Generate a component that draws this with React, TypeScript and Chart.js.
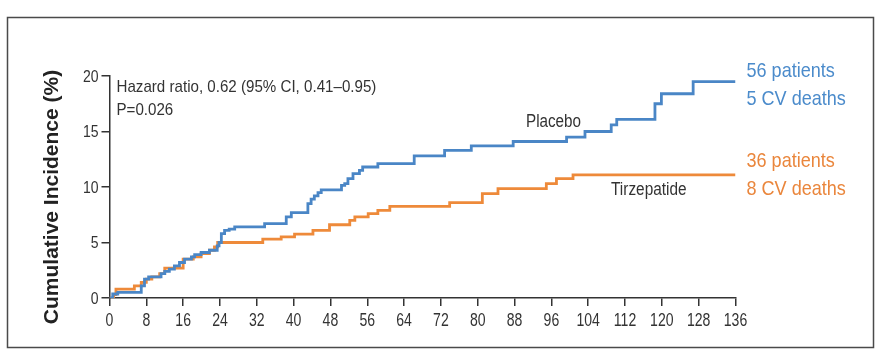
import React, { useEffect, useRef } from 'react';
import { Chart, registerables } from 'chart.js';

Chart.register(...registerables);

// ---- data (weeks, cumulative incidence %) ----
const placeboWeeks = [0, 0.7, 1.8, 6.9, 7.6, 8.5, 11.2, 12.0, 13.0, 14.1, 15.2, 16.3, 17.8, 18.5, 19.9, 21.7, 23.4, 23.8, 24.3, 25.0, 26.0, 27.2, 33.7, 38.4, 39.5, 43.1, 43.8, 44.5, 45.3, 46.0, 50.4, 51.1, 51.8, 52.9, 54.3, 55.0, 58.3, 66.2, 72.8, 78.6, 87.7, 99.3, 103.3, 109.0, 110.2, 118.5, 119.9, 126.8, 136];
const placeboIncidence = [0, 0.36, 0.5, 1.1, 1.7, 1.9, 2.2, 2.4, 2.6, 2.9, 3.2, 3.5, 3.7, 3.9, 4.1, 4.3, 4.7, 5.0, 5.8, 6.1, 6.2, 6.4, 6.7, 7.3, 7.7, 8.5, 8.9, 9.2, 9.5, 9.75, 10.15, 10.3, 10.75, 11.2, 11.5, 11.8, 12.1, 12.8, 13.3, 13.7, 14.1, 14.5, 15.0, 15.6, 16.1, 17.5, 18.4, 19.5, 19.5];

const tirzWeeks = [0, 0.9, 1.4, 5.4, 6.9, 8.0, 9.2, 10.9, 12.0, 16.0, 18.2, 19.9, 21.7, 22.8, 23.5, 33.3, 37.3, 40.2, 44.2, 47.8, 52.2, 53.3, 56.2, 58.3, 60.9, 73.9, 81.0, 84.4, 94.9, 97.1, 100.7, 136];
const tirzIncidence = [0, 0.3, 0.8, 1.1, 1.4, 1.7, 1.9, 2.2, 2.7, 3.5, 3.7, 4.0, 4.3, 4.6, 5.0, 5.3, 5.5, 5.75, 6.1, 6.6, 7.0, 7.3, 7.6, 7.9, 8.25, 8.6, 9.4, 9.85, 10.3, 10.75, 11.1, 11.1];

const xTickValues = [0, 8, 16, 24, 32, 40, 48, 56, 64, 72, 80, 88, 96, 104, 112, 120, 128, 136];
const yTickValues = [0, 5, 10, 15, 20];

const seriesNames = ['Placebo', 'Tirzepatide'];
const rightLabels = [['56 patients', '5 CV deaths'], ['36 patients', '8 CV deaths']];
const statsLines = ['Hazard ratio, 0.62 (95% CI, 0.41\u20130.95)', 'P=0.026'];
const yTitle = 'Cumulative Incidence (%)';

const BLUE = '#4a86c6';
const ORANGE = '#ee8a3a';
const BLUE_TEXT = '#4b8bcb';
const ORANGE_TEXT = '#ea863c';
const INK = '#333333';
const FONT = "'Liberation Sans', Arial, sans-serif";

function drawText(ctx: CanvasRenderingContext2D, text: string, x: number, y: number, size: number, sx: number, align: CanvasTextAlign, baseline: CanvasTextBaseline, color: string, bold = false) {
  ctx.save();
  ctx.translate(x, y);
  ctx.scale(sx, 1);
  ctx.font = `${bold ? 'bold ' : ''}${size}px ${FONT}`;
  ctx.textAlign = align;
  ctx.textBaseline = baseline;
  ctx.fillStyle = color;
  ctx.fillText(text, 0, 0);
  ctx.restore();
}

const decorPlugin = {
  id: 'decor',
  beforeDraw(chart: any) {
    const ctx = chart.ctx;
    ctx.save();
    ctx.fillStyle = '#ffffff';
    ctx.fillRect(0, 0, chart.width, chart.height);
    ctx.strokeStyle = '#4a4a4a';
    ctx.lineWidth = 1.5;
    ctx.strokeRect(7.5, 17.5, 866, 330);
    ctx.restore();
  },
  afterDraw(chart: any) {
    const ctx = chart.ctx as CanvasRenderingContext2D;
    const a = chart.chartArea;
    const xs = chart.scales.x;
    const ys = chart.scales.y;

    // tick labels (condensed)
    xTickValues.forEach((v) => {
      drawText(ctx, String(v), xs.getPixelForValue(v), 326, 18.5, 0.76, 'center', 'alphabetic', INK);
    });
    yTickValues.forEach((v) => {
      drawText(ctx, String(v), a.left - 11, ys.getPixelForValue(v) + 1, 16.5, 0.85, 'right', 'middle', INK);
    });

    // y title
    ctx.save();
    ctx.translate(a.left - 57, 197);
    ctx.rotate(-Math.PI / 2);
    drawText(ctx, yTitle, 0, 0, 21, 1, 'center', 'middle', '#222', true);
    ctx.restore();

    // annotations
    drawText(ctx, statsLines[0], a.left + 7, 92, 17, 0.89, 'left', 'alphabetic', INK);
    drawText(ctx, statsLines[1], a.left + 7, 115, 17, 0.89, 'left', 'alphabetic', INK);
    drawText(ctx, seriesNames[0], 526, 127, 17.5, 0.87, 'left', 'alphabetic', INK);
    drawText(ctx, seriesNames[1], 611, 195, 17.5, 0.88, 'left', 'alphabetic', INK);

    drawText(ctx, rightLabels[0][0], a.right + 11, 77, 21, 0.86, 'left', 'alphabetic', BLUE_TEXT);
    drawText(ctx, rightLabels[0][1], a.right + 11, 105, 21, 0.86, 'left', 'alphabetic', BLUE_TEXT);
    drawText(ctx, rightLabels[1][0], a.right + 11, 167, 21, 0.86, 'left', 'alphabetic', ORANGE_TEXT);
    drawText(ctx, rightLabels[1][1], a.right + 11, 195, 21, 0.86, 'left', 'alphabetic', ORANGE_TEXT);
  },
};

export default function App() {
  const ref = useRef<HTMLCanvasElement | null>(null);
  useEffect(() => {
    if (!ref.current) return;
    const chart = new Chart(ref.current, {
      type: 'line',
      data: {
        datasets: [
          {
            label: seriesNames[0],
            data: placeboWeeks.map((x, i) => ({ x, y: placeboIncidence[i] })),
            borderColor: BLUE,
            borderWidth: 2.8,
            pointRadius: 0,
            stepped: true,
            fill: false,
          },
          {
            label: seriesNames[1],
            data: tirzWeeks.map((x, i) => ({ x, y: tirzIncidence[i] })),
            borderColor: ORANGE,
            borderWidth: 2.8,
            pointRadius: 0,
            stepped: true,
            fill: false,
          },
        ],
      },
      options: {
        animation: false,
        responsive: false,
        maintainAspectRatio: false,
        layout: { padding: { left: 0, right: 150.5, top: 76, bottom: 0 } },
        plugins: { legend: { display: false }, tooltip: { enabled: false }, title: { display: false } },
        scales: {
          x: {
            type: 'linear',
            min: 0,
            max: 136,
            afterBuildTicks: (s: any) => { s.ticks = xTickValues.map((v) => ({ value: v })); },
            afterFit: (s: any) => { s.height = 64; },
            ticks: { display: false },
            grid: { drawOnChartArea: false, drawTicks: true, tickLength: 8, color: INK, lineWidth: 1.5 },
            border: { display: true, color: INK, width: 1.5 },
          },
          y: {
            type: 'linear',
            min: 0,
            max: 20,
            afterBuildTicks: (s: any) => { s.ticks = yTickValues.map((v) => ({ value: v })); },
            afterFit: (s: any) => { s.width = 109.5; },
            ticks: { display: false },
            grid: { drawOnChartArea: false, drawTicks: true, tickLength: 8, color: INK, lineWidth: 1.5 },
            border: { display: true, color: INK, width: 1.5 },
          },
        },
      },
      plugins: [decorPlugin],
    } as any);
    return () => chart.destroy();
  }, []);
  return (
    <div style={{ position: 'fixed', left: 0, top: 0, width: 886, height: 362, background: '#fff' }}>
      <canvas ref={ref} width={886} height={362} style={{ width: 886, height: 362, display: 'block' }} />
    </div>
  );
}
